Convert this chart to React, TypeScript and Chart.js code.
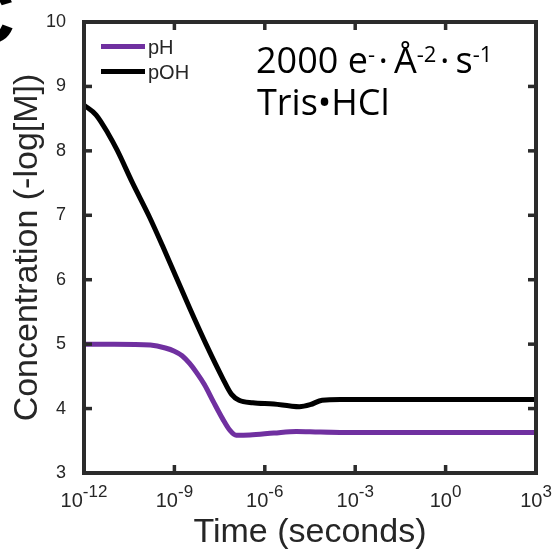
import React, { useEffect, useRef } from 'react';
import { Chart, registerables } from 'chart.js';

Chart.register(...registerables);

// ---------- data ----------
const seriesLabels = ['pH', 'pOH'];
const seriesColors = ['#7030A0', '#000000'];

const phTime = [1e-12, 1e-11, 1.6e-10, 5e-10, 1e-9, 1.8e-9, 3.2e-9, 5.6e-9, 1e-8, 2e-8, 4e-8, 7e-8, 1.12e-7, 3.2e-7, 2e-6, 1.12e-5, 6.3e-5, 3.2e-4, 1, 1000];
const phValues = [5.0, 5.0, 4.985, 4.94, 4.89, 4.82, 4.70, 4.55, 4.37, 4.10, 3.84, 3.66, 3.585, 3.59, 3.62, 3.645, 3.635, 3.63, 3.63, 3.63];

const pohTime = [1e-12, 2.5e-12, 6.3e-12, 1.26e-11, 4e-11, 1.5e-10, 4e-10, 1.12e-9, 3.2e-9, 1.12e-8, 4e-8, 7.9e-8, 1.4e-7, 4e-7, 2e-6, 7e-6, 1.4e-5, 3.2e-5, 8e-5, 3.2e-4, 1, 1000];
const pohValues = [8.71, 8.56, 8.27, 8.01, 7.51, 6.97, 6.53, 6.05, 5.56, 5.0, 4.47, 4.22, 4.13, 4.09, 4.07, 4.04, 4.03, 4.06, 4.13, 4.14, 4.14, 4.14];

const xTickBase = '10';
const xTickExponents = [-12, -9, -6, -3, 0, 3];
const xMin = 1e-12;
const xMax = 1e3;
const yMin = 3;
const yMax = 10;

const xTitle = 'Time (seconds)';
const yTitle = 'Concentration (-log[M])';
const panelLabel = 'C';
const annotationLine1 = [
  { text: '2000 e', sup: false },
  { text: '-', sup: true },
  { text: '\u200A\u00B7\u2009', sup: false },
  { text: '\u00C5', sup: false },
  { text: '-2', sup: true },
  { text: '\u200A\u00B7\u2009', sup: false },
  { text: 's', sup: false },
  { text: '-1', sup: true },
];
const annotationLine2 = 'Tris\u2022HCl';

// ---------- styles ----------
const AXIS_COLOR = '#2b2b2b';
const LABEL_COLOR = '#262626';
const ARIAL = '"Liberation Sans", Arial, sans-serif';
const ANNOT_FONT = '"Open Sans", "Liberation Sans", sans-serif';
const BORDER_W = 4;

const decorPlugin = {
  id: 'decor',
  afterDraw(chart: any) {
    const ctx: CanvasRenderingContext2D = chart.ctx;
    const { left, right, top, bottom } = chart.chartArea;
    const xs = chart.scales.x;
    const ys = chart.scales.y;
    ctx.save();

    // panel label (cut off at the page edge)
    ctx.fillStyle = '#000';
    ctx.textBaseline = 'alphabetic';
    ctx.textAlign = 'left';
    ctx.font = `bold 80px ${ARIAL}`;
    ctx.fillText(panelLabel, -43, 43);

    // x tick labels with superscripts
    ctx.fillStyle = LABEL_COLOR;
    const baseFont = `20px ${ARIAL}`;
    const supFont = `17px ${ARIAL}`;
    xTickExponents.forEach((e) => {
      const x = xs.getPixelForValue(Math.pow(10, e));
      const expText = String(e);
      ctx.font = baseFont;
      const wb = ctx.measureText(xTickBase).width;
      ctx.font = supFont;
      const we = ctx.measureText(expText).width;
      const x0 = x - (wb + we) / 2;
      ctx.font = baseFont;
      ctx.fillText(xTickBase, x0, bottom + 34);
      ctx.font = supFont;
      ctx.fillText(expText, x0 + wb, bottom + 24);
    });

    // legend
    const legendX1 = left + 17;
    const legendX2 = left + 61;
    const legendY = [top + 24.5, top + 49.5];
    chart.data.datasets.forEach((ds: any, i: number) => {
      ctx.fillStyle = ds.borderColor;
      ctx.fillRect(legendX1, legendY[i] - 2.5, legendX2 - legendX1, 5);
      ctx.fillStyle = LABEL_COLOR;
      ctx.font = `20px ${ARIAL}`;
      ctx.fillText(ds.label, legendX2 + 3, legendY[i] + 7.5);
    });

    // annotation
    ctx.fillStyle = '#000';
    let ax = 256;
    const ay = 73;
    annotationLine1.forEach((s) => {
      ctx.font = s.sup ? `22px ${ANNOT_FONT}` : `36px ${ANNOT_FONT}`;
      ctx.fillText(s.text, ax, s.sup ? ay - 11 : ay);
      ax += ctx.measureText(s.text).width;
    });
    ctx.font = `36px ${ANNOT_FONT}`;
    ctx.fillText(annotationLine2, 257, 115);

    // frame and inward ticks, drawn last
    ctx.fillStyle = AXIS_COLOR;
    const h = BORDER_W / 2;
    ctx.fillRect(left - h, top - h, right - left + BORDER_W, BORDER_W);
    ctx.fillRect(left - h, bottom - h, right - left + BORDER_W, BORDER_W);
    ctx.fillRect(left - h, top - h, BORDER_W, bottom - top + BORDER_W);
    ctx.fillRect(right - h, top - h, BORDER_W, bottom - top + BORDER_W);
    const tickLen = 8;
    const tickW = 3.5;
    ys.ticks.forEach((t: any) => {
      const y = ys.getPixelForValue(t.value);
      if (y <= top + 1 || y >= bottom - 1) return;
      ctx.fillRect(left, y - tickW / 2, tickLen, tickW);
      ctx.fillRect(right - tickLen, y - tickW / 2, tickLen, tickW);
    });
    xTickExponents.forEach((e) => {
      const x = xs.getPixelForValue(Math.pow(10, e));
      if (x <= left + 1 || x >= right - 1) return;
      ctx.fillRect(x - tickW / 2, bottom - tickLen, tickW, tickLen);
      ctx.fillRect(x - tickW / 2, top, tickW, tickLen);
    });

    ctx.restore();
  },
};

function ConcentrationChart() {
  const canvasRef = useRef<HTMLCanvasElement | null>(null);
  const frameRef = useRef<HTMLDivElement | null>(null);

  useEffect(() => {
    if (!canvasRef.current) return;
    const chart = new Chart(canvasRef.current, {
      type: 'line',
      data: {
        datasets: [
          {
            label: seriesLabels[0],
            data: phTime.map((t, i) => ({ x: t, y: phValues[i] })),
            borderColor: seriesColors[0],
            borderWidth: 5,
            pointRadius: 0,
            cubicInterpolationMode: 'monotone',
          },
          {
            label: seriesLabels[1],
            data: pohTime.map((t, i) => ({ x: t, y: pohValues[i] })),
            borderColor: seriesColors[1],
            borderWidth: 5,
            pointRadius: 0,
            cubicInterpolationMode: 'monotone',
          },
        ],
      },
      options: {
        responsive: false,
        animation: false,
        layout: { padding: { top: 22, right: 20, left: 0, bottom: 0 } },
        plugins: {
          legend: { display: false },
          tooltip: { enabled: false },
        },
        scales: {
          x: {
            type: 'logarithmic',
            position: 'bottom',
            min: xMin,
            max: xMax,
            border: { display: true, color: AXIS_COLOR, width: BORDER_W },
            grid: { display: false },
            ticks: { display: false },
            title: {
              display: true,
              text: xTitle,
              color: LABEL_COLOR,
              font: { family: ARIAL, size: 34, lineHeight: 1 },
              padding: { top: 0, bottom: 2 },
            },
            afterFit: (scale: any) => {
              scale.height = 79;
            },
          },
          y: {
            type: 'linear',
            position: 'left',
            min: yMin,
            max: yMax,
            border: { display: true, color: AXIS_COLOR, width: BORDER_W },
            grid: { display: false },
            ticks: {
              stepSize: 1,
              color: LABEL_COLOR,
              font: { family: ARIAL, size: 18 },
              padding: 10,
            },
            title: {
              display: true,
              text: yTitle,
              color: LABEL_COLOR,
              font: { family: ARIAL, size: 34, lineHeight: 1 },
              padding: { top: 11, bottom: 0 },
            },
            afterFit: (scale: any) => {
              scale.width = 84;
            },
          },
        },
      } as any,
      plugins: [decorPlugin],
    });

    // frame overlay that follows the library's chart area
    const f = frameRef.current;
    if (f) {
      const { left, right, top, bottom } = chart.chartArea;
      const h = BORDER_W / 2;
      f.style.left = `${left - h}px`;
      f.style.top = `${top - h}px`;
      f.style.width = `${right - left + BORDER_W}px`;
      f.style.height = `${bottom - top + BORDER_W}px`;
      f.style.display = 'block';
    }
    return () => chart.destroy();
  }, []);

  return (
    <div style={{ position: 'relative', width: 556, height: 552 }}>
      <canvas
        ref={canvasRef}
        width={556}
        height={552}
        style={{ display: 'block', width: 556, height: 552 }}
      />
      <div
        ref={frameRef}
        style={{
          display: 'none',
          position: 'absolute',
          boxSizing: 'border-box',
          border: `${BORDER_W}px solid ${AXIS_COLOR}`,
          pointerEvents: 'none',
        }}
      />
    </div>
  );
}

export default function App() {
  return (
    <div style={{ position: 'fixed', left: 0, top: 0, width: 556, height: 552, background: '#fff', overflow: 'hidden' }}>
      <ConcentrationChart />
    </div>
  );
}
